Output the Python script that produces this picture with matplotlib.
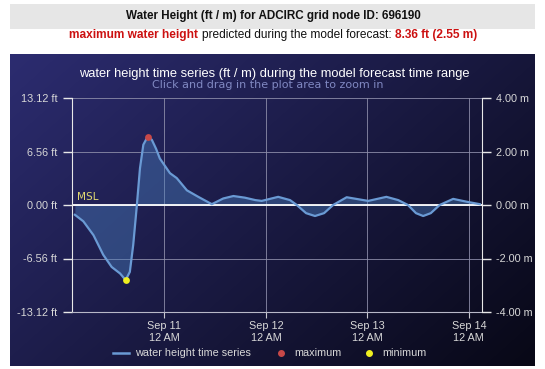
import matplotlib
matplotlib.use('Agg')
import matplotlib.pyplot as plt
from matplotlib.patches import Rectangle
from matplotlib.lines import Line2D
import matplotlib.transforms as mtransforms
import numpy as np
import pandas as pd

# water height time series (ft)
times = ["2017-09-10 02:48", "2017-09-10 04:48", "2017-09-10 07:12", "2017-09-10 09:30",
         "2017-09-10 11:30", "2017-09-10 13:30", "2017-09-10 14:48", "2017-09-10 15:48",
         "2017-09-10 16:36", "2017-09-10 17:24", "2017-09-10 18:12", "2017-09-10 19:00",
         "2017-09-10 20:00", "2017-09-10 21:00", "2017-09-10 22:00", "2017-09-10 22:54",
         "2017-09-11 00:30", "2017-09-11 01:18", "2017-09-11 02:54", "2017-09-11 05:18",
         "2017-09-11 08:00", "2017-09-11 11:12", "2017-09-11 13:54", "2017-09-11 16:18",
         "2017-09-11 19:00", "2017-09-11 21:30", "2017-09-11 23:00", "2017-09-12 02:54",
         "2017-09-12 05:42", "2017-09-12 07:18", "2017-09-12 09:30", "2017-09-12 11:36",
         "2017-09-12 13:45", "2017-09-12 15:54", "2017-09-12 19:06", "2017-09-13 00:12",
         "2017-09-13 04:30", "2017-09-13 07:18", "2017-09-13 09:36", "2017-09-13 11:30",
         "2017-09-13 13:12", "2017-09-13 15:00", "2017-09-13 17:06", "2017-09-13 20:18",
         "2017-09-13 23:30", "2017-09-14 02:36"]
heights_ft = [-1.2, -2.0, -3.7, -6.1,
              -7.6, -8.4, -9.2, -8.2,
              -4.9, -0.4, 4.5, 7.4,
              8.36, 8.0, 6.9, 5.7,
              4.5, 3.9, 3.3, 1.8,
              1.0, 0.1, 0.8, 1.1,
              0.9, 0.6, 0.5, 1.0,
              0.6, 0.0, -1.0, -1.35,
              -1.0, 0.0, 0.95, 0.5,
              1.0, 0.6, 0.0, -1.0,
              -1.35, -1.0, 0.0, 0.75,
              0.4, 0.1]

max_time = "2017-09-10 20:00"
max_ft = 8.36
min_time = "2017-09-10 14:48"
min_ft = -9.2

ft_ticks = [-13.12, -6.56, 0.0, 6.56, 13.12]
m_ticks = [-4, -2, 0, 2, 4]
date_ticks = ["2017-09-11", "2017-09-12", "2017-09-13", "2017-09-14"]
date_labels = ["Sep 11\n12 AM", "Sep 12\n12 AM", "Sep 13\n12 AM", "Sep 14\n12 AM"]
x_range = ["2017-09-10 02:00", "2017-09-14 03:00"]

W, H = 545, 369
plt.rcParams['font.family'] = ['Liberation Sans', 'DejaVu Sans']
label_col = '#d8d8d8'
fs = 7.8

def fx(px):
    return px / W

def fy(py):
    return 1 - py / H

fig = plt.figure(figsize=(W / 100, H / 100), dpi=100)
fig.patch.set_facecolor('white')

# header band
fig.patches.append(Rectangle((fx(10), fy(28.5)), 525 / W, 24.5 / H, transform=fig.transFigure,
                             facecolor='#e6e6e6', edgecolor='none', zorder=0))
fig.text(fx(273), fy(16), "Water Height (ft / m) for ADCIRC grid node ID: 696190",
         ha='center', va='center', fontsize=8.4, weight='bold', color='#111111')

# second line in three parts
renderer = fig.canvas.get_renderer()
parts = [("maximum water height", '#cc1111', 'bold'),
         ("predicted during the model forecast:", '#111111', 'normal'),
         (f"{max_ft:.2f} ft ({max_ft * 0.3048:.2f} m)", '#cc1111', 'bold')]
gap = 3.5
objs = []
widths = []
for s, c, w in parts:
    t = fig.text(0, fy(35), s, ha='left', va='center', fontsize=8.6, weight=w, color=c)
    objs.append(t)
    widths.append(t.get_window_extent(renderer).width)
total = sum(widths) + gap * (len(parts) - 1)
x0 = 273 - total / 2
for t, wd in zip(objs, widths):
    t.set_x(fx(x0))
    x0 += wd + gap

# dark gradient panel
bg = fig.add_axes([fx(10), fy(366), 525 / W, 312 / H])
gx, gy = np.meshgrid(np.linspace(0, 1, 200), np.linspace(1, 0, 120))
u = (gx * 0.6 + (1 - gy) * 0.4)
c0 = np.array([44, 44, 112]) / 255
c1 = np.array([8, 8, 22]) / 255
grad = c0[None, None, :] * (1 - u[..., None]) + c1[None, None, :] * u[..., None]
bg.imshow(grad, aspect='auto', extent=[0, 1, 0, 1], interpolation='bilinear')
bg.axis('off')

fig.text(fx(274), fy(73.5), "water height time series (ft / m) during the model forecast time range",
         ha='center', va='center', fontsize=9.3, color='white')
fig.text(fx(268), fy(85.5), "Click and drag in the plot area to zoom in",
         ha='center', va='center', fontsize=8.0, color='#8088c2', family='DejaVu Sans')

# plot area
ax = fig.add_axes([fx(71.5), fy(312), 410 / W, 214 / H])
ax.patch.set_alpha(0)
t = pd.to_datetime(times)
line_col = '#6a9ad4'
ax.fill_between(t, heights_ft, 0, color='#4a80c0', alpha=0.42, lw=0, zorder=2)
ax.plot(t, heights_ft, color=line_col, lw=1.6, zorder=3, solid_joinstyle='round')
ax.axhline(0, color='white', lw=1.3, zorder=2.5)
ax.scatter([pd.Timestamp(max_time)], [max_ft], s=24, color='#c84848', zorder=4, lw=0)
ax.scatter([pd.Timestamp(min_time)], [min_ft], s=24, color='#f0f020', zorder=4, lw=0)

ax.set_xlim(pd.Timestamp(x_range[0]), pd.Timestamp(x_range[1]))
ax.set_ylim(ft_ticks[0], ft_ticks[-1])
ax.set_yticks(ft_ticks)
ax.set_yticklabels([f"{v:.2f} ft" for v in ft_ticks])
ax.set_xticks(pd.to_datetime(date_ticks))
ax.set_xticklabels(date_labels, linespacing=1.3)
ax.grid(True, color='#8e8eaa', lw=0.7, alpha=0.85, zorder=1)
ax.set_axisbelow(True)
ax.tick_params(axis='y', direction='out', length=6.8, width=1, color='#e8e8e8',
               labelcolor=label_col, labelsize=fs, pad=3.4)
ax.tick_params(axis='x', direction='out', length=4, width=0.8, color='#c8c8d0',
               labelcolor=label_col, labelsize=fs, pad=2.2)
for side in ['top', 'right']:
    ax.spines[side].set_visible(False)
ax.spines['left'].set_color('#e8e8e8')
ax.spines['bottom'].set_color('#b8b8c8')
ax.spines['bottom'].set_linewidth(0.8)

blend = mtransforms.blended_transform_factory(ax.transAxes, ax.transData)
ax.text(0.013, 0.4, "MSL", transform=blend, color='#e0d870', fontsize=7.6,
        ha='left', va='bottom', family='DejaVu Sans')

ax2 = ax.twinx()
ax2.set_ylim(m_ticks[0], m_ticks[-1])
ax2.set_yticks(m_ticks)
ax2.set_yticklabels([f"{v:.2f} m" for v in m_ticks])
ax2.tick_params(axis='y', direction='out', length=6.5, width=1, color='#e8e8e8',
                labelcolor=label_col, labelsize=fs, pad=3.6)
for side in ['top', 'left', 'bottom']:
    ax2.spines[side].set_visible(False)
ax2.spines['right'].set_color('#e8e8e8')

# legend
ly = fy(352.5)
fig.lines.append(Line2D([fx(113), fx(128.5)], [ly, ly], transform=fig.transFigure,
                        color=line_col, lw=1.8))
fig.text(fx(135.5), ly, "water height time series", ha='left', va='center',
         fontsize=fs, color=label_col)
fig.lines.append(Line2D([fx(281)], [ly], transform=fig.transFigure, marker='o',
                        markersize=4, color='#c84848', lw=0))
fig.text(fx(294.5), ly, "maximum", ha='left', va='center', fontsize=fs, color=label_col)
fig.lines.append(Line2D([fx(369)], [ly], transform=fig.transFigure, marker='o',
                        markersize=4, color='#f0f020', lw=0))
fig.text(fx(382), ly, "minimum", ha='left', va='center', fontsize=fs, color=label_col)

fig.savefig('out.png', dpi=100)
